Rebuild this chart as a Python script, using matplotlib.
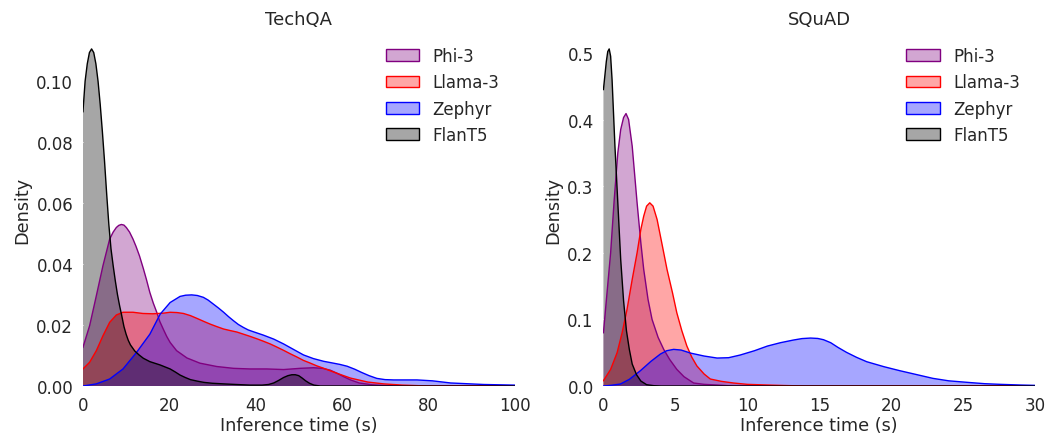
"""
KDE of inference time per model on TechQA and SQuAD.
Curves are traced from the reference figure (density values, not raw samples).
"""
import matplotlib
matplotlib.use("Agg")
import matplotlib.pyplot as plt
from matplotlib.patches import Patch
from matplotlib.colors import to_rgba


MODELS = ["Phi-3", "Llama-3", "Zephyr", "FlanT5"]
COLORS = {"Phi-3": "purple", "Llama-3": "red", "Zephyr": "blue", "FlanT5": "black"}
DATASETS = ["TechQA", "SQuAD"]
XLIMS = {"TechQA": (0, 100), "SQuAD": (0, 30)}

# ---- TechQA density curves (x in seconds, y density) ----
techqa_flant5_x = [0, 0.5, 1, 1.5, 2, 2.5, 3, 3.5, 4, 4.5, 5, 5.5, 6, 6.5, 7, 7.5, 8, 8.5, 9,
                   9.5, 10, 10.5, 11, 12, 13, 14, 15.5, 17.9, 20.2, 21.4, 22.5, 23.7, 24.9,
                   26.5, 28, 30, 32.6, 35.5, 38.7, 41.5, 43, 44.2, 45.3, 46.5, 47.5, 48.4,
                   49.2, 50, 50.8, 51.6, 52.5, 53.5, 55, 100]
techqa_flant5_y = [0.090, 0.100, 0.1057, 0.1094, 0.1106, 0.1094, 0.1057, 0.100, 0.0924,
                   0.0835, 0.0738, 0.063, 0.053, 0.045, 0.0395, 0.0345, 0.030, 0.0263,
                   0.023, 0.0195, 0.017, 0.015, 0.0135, 0.0115, 0.0102, 0.0091, 0.008,
                   0.0069, 0.0056, 0.0046, 0.0036, 0.0028, 0.0021, 0.0016, 0.0012, 0.0009,
                   0.0007, 0.0005, 0.0003, 0.0003, 0.0005, 0.001, 0.0018, 0.0028, 0.0034,
                   0.0037, 0.0037, 0.0034, 0.0026, 0.0017, 0.0009, 0.0003, 0.0, 0.0]

techqa_phi3_x = [0, 1.55, 3.1, 4.64, 6.19, 7.0, 7.73, 8.3, 8.9, 9.5, 10.05, 10.8, 11.6, 12.3,
                 13.1, 14.0, 14.7, 15.5, 16.3, 17.1, 17.8, 18.6, 19.4, 20.2, 21.7, 24.1,
                 27.1, 31, 34.9, 38.7, 42.6, 46.5, 50.3, 53.4, 55.5, 57.3, 59, 60.5, 62, 64,
                 67, 72, 100]
techqa_phi3_y = [0.0127, 0.0198, 0.0296, 0.0395, 0.0482, 0.0505, 0.052, 0.0527, 0.053,
                 0.0528, 0.052, 0.0505, 0.0482, 0.0458, 0.0427, 0.0385, 0.035, 0.0307,
                 0.0272, 0.0242, 0.0212, 0.0187, 0.0163, 0.0143, 0.0116, 0.0092, 0.0075,
                 0.0064, 0.0058, 0.0056, 0.0056, 0.0054, 0.0058, 0.006, 0.0058, 0.0052,
                 0.0041, 0.003, 0.002, 0.001, 0.0004, 0.0, 0.0]

techqa_llama3_x = [0, 1.55, 3.1, 4.64, 6.19, 7.73, 9.28, 11.6, 13.9, 16.2, 18.6, 20.2, 21.8,
                   23.3, 24.9, 26.4, 28, 29.5, 31, 32.6, 34.1, 35.7, 37.2, 38.7, 40.3, 41.8,
                   43.4, 44.9, 46.5, 48, 49.6, 51.1, 52.7, 54.2, 55.8, 57.3, 59, 62, 66, 69.7,
                   74, 80, 100]
techqa_llama3_y = [0.0056, 0.0078, 0.0116, 0.0165, 0.0209, 0.0233, 0.0242, 0.0242, 0.0238,
                   0.0237, 0.0239, 0.0242, 0.0241, 0.0238, 0.0231, 0.0222, 0.0212, 0.0203,
                   0.0195, 0.0187, 0.0182, 0.0177, 0.017, 0.0163, 0.0155, 0.0147, 0.0138,
                   0.0128, 0.0117, 0.0106, 0.0095, 0.0084, 0.0075, 0.0066, 0.0058, 0.005,
                   0.0041, 0.0026, 0.0013, 0.0007, 0.0003, 0.0, 0.0]

techqa_zephyr_x = [0, 3.1, 6.19, 9.28, 12.4, 15.5, 17.9, 20.2, 22.5, 23.8, 25.2, 26.5, 27.9,
                   29, 30.2, 31.4, 32.6, 33.7, 34.9, 36, 37.2, 38.3, 39.5, 41.8, 44.2, 46.5,
                   48.8, 51.1, 53.4, 55.8, 57.3, 59.5, 61.2, 63, 64.5, 66.3, 68.1, 70, 72,
                   77.4, 81, 85.2, 92.9, 100]
techqa_zephyr_y = [0.0, 0.0007, 0.0023, 0.0056, 0.011, 0.017, 0.0236, 0.0274, 0.0294,
                   0.0298, 0.0299, 0.0297, 0.0291, 0.0282, 0.0269, 0.0256, 0.0242, 0.0228,
                   0.0214, 0.0202, 0.0192, 0.0184, 0.0178, 0.0167, 0.0154, 0.0138, 0.012,
                   0.0102, 0.009, 0.0081, 0.0077, 0.0071, 0.0065, 0.0055, 0.0045, 0.0034,
                   0.0025, 0.0021, 0.002, 0.002, 0.0017, 0.001, 0.0005, 0.0003]

# ---- SQuAD density curves ----
squad_flant5_x = [0, 0.2, 0.3, 0.4, 0.5, 0.6, 0.72, 0.8, 1.0, 1.2, 1.4, 1.6, 1.8, 2.0, 2.3,
                  2.6, 3.0, 3.5, 4.0, 30]
squad_flant5_y = [0.445, 0.487, 0.502, 0.506, 0.495, 0.46, 0.40, 0.36, 0.275, 0.19, 0.128,
                  0.083, 0.055, 0.033, 0.017, 0.0075, 0.002, 0.0005, 0.0, 0.0]

squad_phi3_x = [0, 0.25, 0.5, 0.75, 1.0, 1.2, 1.4, 1.57, 1.75, 2.0, 2.2, 2.34, 2.6, 2.8, 3.1,
                3.38, 3.8, 4.19, 4.6, 5.1, 5.6, 6.27, 7.0, 7.9, 9.0, 30]
squad_phi3_y = [0.08, 0.14, 0.2, 0.28, 0.35, 0.385, 0.403, 0.409, 0.40, 0.36, 0.31, 0.275,
                0.215, 0.175, 0.13, 0.1, 0.073, 0.055, 0.04, 0.025, 0.014, 0.0045, 0.0025,
                0.0015, 0.0, 0.0]

squad_llama3_x = [0, 0.5, 0.95, 1.3, 1.64, 2.0, 2.34, 2.6, 2.8, 3.0, 3.22, 3.45, 3.73, 4.1,
                  4.42, 4.8, 5.1, 5.45, 5.8, 6.15, 6.5, 7.0, 7.43, 8.2, 9.05, 10, 11.4, 12.5,
                  14, 30]
squad_llama3_y = [0.008, 0.025, 0.05, 0.08, 0.115, 0.16, 0.2, 0.235, 0.255, 0.27, 0.275,
                  0.27, 0.25, 0.21, 0.175, 0.14, 0.11, 0.083, 0.06, 0.043, 0.03, 0.018,
                  0.0105, 0.007, 0.0045, 0.0025, 0.0015, 0.0008, 0.0, 0.0]

squad_zephyr_x = [0, 0.5, 1.18, 1.8, 2.57, 3.3, 3.96, 4.4, 4.88, 5.4, 6.04, 7.0, 7.9, 8.7,
                  9.5, 10.5, 11.4, 12.3, 13.2, 13.8, 14.4, 14.9, 15.3, 15.8, 16.3, 16.9,
                  17.6, 18.3, 19.5, 20.6, 21.8, 22.9, 24, 25.3, 26.5, 27.6, 29, 30]
squad_zephyr_y = [0.0, 0.001, 0.003, 0.01, 0.023, 0.037, 0.048, 0.053, 0.055, 0.054, 0.0495,
                  0.045, 0.042, 0.0425, 0.0465, 0.053, 0.06, 0.065, 0.069, 0.0712, 0.072,
                  0.0714, 0.0695, 0.065, 0.058, 0.0505, 0.043, 0.0365, 0.029, 0.023, 0.017,
                  0.0115, 0.0078, 0.0055, 0.0035, 0.0025, 0.0015, 0.001]

CURVES = {
    "TechQA": {
        "Phi-3": (techqa_phi3_x, techqa_phi3_y),
        "Llama-3": (techqa_llama3_x, techqa_llama3_y),
        "Zephyr": (techqa_zephyr_x, techqa_zephyr_y),
        "FlanT5": (techqa_flant5_x, techqa_flant5_y),
    },
    "SQuAD": {
        "Phi-3": (squad_phi3_x, squad_phi3_y),
        "Llama-3": (squad_llama3_x, squad_llama3_y),
        "Zephyr": (squad_zephyr_x, squad_zephyr_y),
        "FlanT5": (squad_flant5_x, squad_flant5_y),
    },
}

FILL_ALPHA = 0.35
TEXT_COLOR = "#262626"

plt.rcParams.update({
    "font.family": "DejaVu Sans",
    "font.size": 12,
    "text.color": TEXT_COLOR,
    "axes.labelcolor": TEXT_COLOR,
    "xtick.color": TEXT_COLOR,
    "ytick.color": TEXT_COLOR,
})


def main():
    fig, axes = plt.subplots(1, 2, figsize=(10.46, 4.35), dpi=100)
    fig.subplots_adjust(left=0.0793, right=0.9895, bottom=0.1103, top=0.924, wspace=0.206)

    for ax, ds in zip(axes, DATASETS):
        ymax = 0
        # legend order is also the draw order (FlanT5 ends up on top)
        for model in MODELS:
            xs, ys = CURVES[ds][model]
            c = COLORS[model]
            ax.fill_between(xs, ys, 0, facecolor=to_rgba(c, FILL_ALPHA), linewidth=0)
            ax.plot(xs, ys, color=c, linewidth=1)
            ymax = max(ymax, max(ys))

        ax.set_xlim(*XLIMS[ds])
        ax.set_ylim(0, ymax * 1.05)
        ax.set_title(ds, fontsize=13, pad=6)
        ax.set_xlabel("Inference time (s)", fontsize=12.7, labelpad=1.5)
        ax.set_ylabel("Density", fontsize=12.7, labelpad=3.5)
        ax.tick_params(axis="both", labelsize=12, length=3.5, color="white")
        for spine in ax.spines.values():
            spine.set_visible(False)

        handles = [Patch(facecolor=to_rgba(COLORS[m], FILL_ALPHA), edgecolor=COLORS[m], label=m)
                   for m in MODELS]
        ax.legend(handles=handles, loc="upper right", frameon=False, fontsize=12)

    fig.savefig("out.png", dpi=100)
    plt.close(fig)


if __name__ == "__main__":
    main()
